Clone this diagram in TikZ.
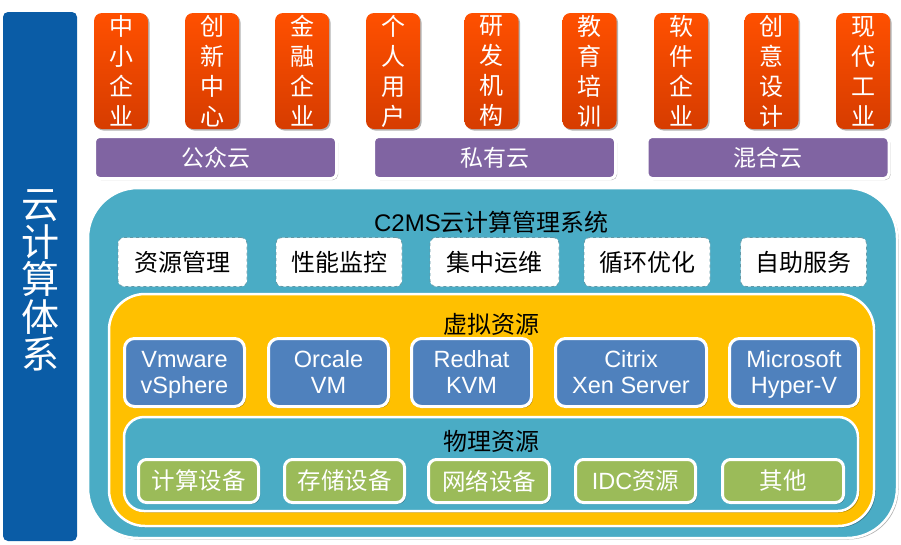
\documentclass[tikz,border=0pt]{standalone}
\usepackage{fontspec}
\setmainfont{Liberation Sans}
\newfontfamily\cjk{Noto Sans CJK SC}
\usetikzlibrary{shadows}
\definecolor{barblue}{HTML}{0A5CA6}
\definecolor{tealbg}{HTML}{4AACC5}
\definecolor{goldbg}{HTML}{FFC000}
\definecolor{purplebox}{HTML}{8064A2}
\definecolor{bluebox}{HTML}{4F81BD}
\definecolor{greenbox}{HTML}{9BBB59}
\definecolor{usertop}{HTML}{FF5000}
\definecolor{userbottom}{HTML}{D63C00}
\tikzset{
  softshadow/.style={drop shadow={shadow xshift=1.5pt,shadow yshift=-1.5pt,fill=black,opacity=.3}},
  userbox/.style={rounded corners=8pt,top color=usertop,bottom color=userbottom,inner sep=0pt,
    text=white,align=center,minimum width=54pt,minimum height=116pt,
    font=\cjk\fontsize{24}{30}\selectfont,softshadow},
  cloudbox/.style={rounded corners=5pt,fill=purplebox,draw=white,line width=3pt,text=white,inner sep=0pt,
    minimum width=242pt,minimum height=42pt,font=\cjk\fontsize{23}{26}\selectfont,softshadow},
  panel/.style={rounded corners=#1,draw=white,line width=2.5pt,inner sep=0pt,softshadow},
  mgmtbox/.style={rounded corners=6pt,fill=white,draw=tealbg!55!gray,line width=.8pt,dashed,inner sep=0pt,
    minimum height=49pt,font=\cjk\fontsize{24}{28}\selectfont},
  vmbox/.style={rounded corners=10pt,fill=bluebox,draw=white,line width=3pt,text=white,inner sep=0pt,align=center,
    minimum height=68pt,font=\fontsize{23.5}{26}\selectfont,softshadow},
  devbox/.style={rounded corners=8pt,fill=greenbox,draw=white,line width=3pt,text=white,inner sep=0pt,
    minimum height=43pt,font=\cjk\fontsize{23.5}{26}\selectfont,softshadow},
  headline/.style={inner sep=0pt,font=\cjk\fontsize{24}{26}\selectfont}
}
\begin{document}
\begin{tikzpicture}[x=1pt,y=-1pt]
\useasboundingbox (0,0) rectangle (901,544);
% left bar
\node[fill=barblue,rounded corners=5pt,inner sep=0pt,minimum width=74pt,minimum height=529pt] (bar) at (40,276.5) {};
\node[text=white,align=center,inner sep=0pt,font=\cjk\fontsize{38}{37.5}\selectfont] (bartext) at (40,280.5) {云\\计\\算\\体\\系};
% users on top
\foreach \x/\a/\b/\c/\d/\n in {121/中/小/企/业/smb,212/创/新/中/心/inno,302/金/融/企/业/fin,
  393/个/人/用/户/person,491.5/研/发/机/构/lab,589.5/教/育/培/训/edu,
  681/软/件/企/业/soft,771.5/创/意/设/计/idea,863/现/代/工/业/ind}
  \node[userbox] (\n) at (\x,71) {\a\\\b\\\c\\\d};
% clouds
\foreach \x/\t/\n in {215.5/公众云/public,494.5/私有云/private,768/混合云/hybrid}
  \node[cloudbox] (\n) at (\x,157.5) {\t};
% nested panels
\node[panel=50pt,fill=tealbg,minimum width=809pt,minimum height=350pt] (cms) at (492.5,363) {};
\node[panel=36pt,fill=goldbg,minimum width=765pt,minimum height=232pt] (virt) at (491.5,410) {};
\node[panel=20pt,fill=tealbg,minimum width=734pt,minimum height=94pt] (phys) at (491,464) {};
% titles
\node[headline] (cmstitle) at (491.5,222) {\fontspec{Liberation Sans}C2MS{\cjk 云计算管理系统}};
\node[headline] (virttitle) at (491,324) {虚拟资源};
\node[headline] (phystitle) at (491,441) {物理资源};
% management
\foreach \x/\w/\t/\n in {182.5/129/资源管理/res,339/126/性能监控/perf,494.5/129/集中运维/ops,
  647/126/循环优化/loop,803.5/126/自助服务/self}
  \node[mgmtbox,minimum width=\w pt] (\n) at (\x,262) {\t};
% virtual resources
\foreach \x/\w/\t/\n in {184.5/120/Vmware\\vSphere/vmware,328.5/120/Orcale\\VM/oracle,471.5/120/Redhat\\KVM/redhat,
  631/151/Citrix\\Xen Server/citrix,794/129/Microsoft\\Hyper-V/msft}
  \node[vmbox,minimum width=\w pt] (\n) at (\x,372.5) {\rule{0pt}{21pt}\t\vphantom{p}};
% physical resources
\foreach \x/\w/\t/\n in {198.5/120/计算设备/comp,344.5/120/存储设备/stor,489/121/网络设备/net,
  635.5/120/{\fontspec{Liberation Sans}IDC}资源/idc,783/121/其他/other}
  \node[devbox,minimum width=\w pt] (\n) at (\x,481) {\t};
\end{tikzpicture}
\end{document}
